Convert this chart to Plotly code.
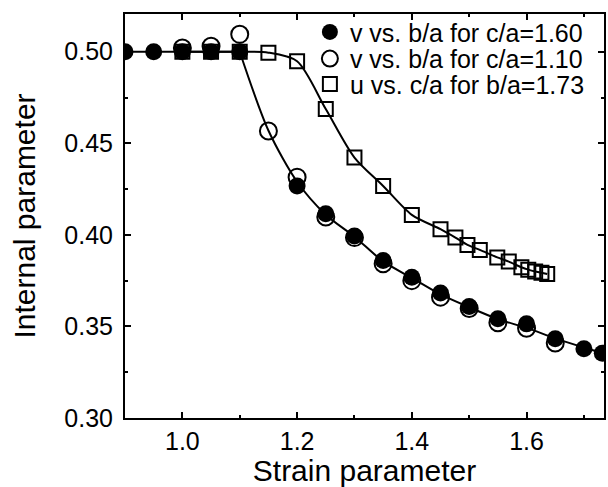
import plotly.graph_objects as go

# ---- data ----
filled_x = [0.9, 0.95, 1.0, 1.05, 1.1, 1.2, 1.25, 1.3, 1.35, 1.4, 1.45, 1.5, 1.55, 1.6, 1.65, 1.7, 1.732]
filled_y = [0.5, 0.5, 0.5, 0.5, 0.5, 0.4267, 0.4115, 0.3994, 0.386, 0.3769, 0.3682, 0.3609, 0.3542, 0.3514, 0.3433, 0.3378, 0.3354]

open_x = [1.0, 1.05, 1.1, 1.15, 1.2, 1.25, 1.3, 1.35, 1.4, 1.45, 1.5, 1.55, 1.6, 1.65]
open_y = [0.502, 0.503, 0.5095, 0.4567, 0.4315, 0.4098, 0.3985, 0.3842, 0.375, 0.366, 0.3598, 0.352, 0.349, 0.341]

square_x = [1.0, 1.05, 1.1, 1.15, 1.2, 1.25, 1.3, 1.35, 1.4, 1.45, 1.476, 1.497, 1.5185,
            1.549, 1.569, 1.591, 1.603, 1.615, 1.626, 1.636]
square_y = [0.5, 0.5, 0.5, 0.4995, 0.4948, 0.4687, 0.4422, 0.4267, 0.4109, 0.4031, 0.3985, 0.3945,
            0.3918, 0.3877, 0.3854, 0.3823, 0.3810, 0.3800, 0.3793, 0.3786]

# fitted curve through the v data
flat_x = [0.9, 1.1]
flat_y = [0.5, 0.5]
fit_x = [1.1, 1.15, 1.2, 1.25, 1.3, 1.35, 1.4, 1.45, 1.5, 1.55, 1.6, 1.65, 1.7, 1.732]
fit_y = [0.5, 0.457, 0.429, 0.411, 0.399, 0.3855, 0.3765, 0.3675, 0.3605, 0.354, 0.3492, 0.3435, 0.3385, 0.3355]

labels = ["v vs. b/a for c/a=1.60", "v vs. b/a for c/a=1.10", "u vs. c/a for b/a=1.73"]

FONT = "Liberation Sans, Arial, Helvetica, sans-serif"
BLACK = "#000000"
TICK_SIZE = 25
TITLE_SIZE = 30
LEG_SIZE = 25

fig = go.Figure()

# lines
fig.add_trace(go.Scatter(x=flat_x, y=flat_y, mode="lines", line=dict(color=BLACK, width=2),
                         showlegend=False, hoverinfo="skip"))
fig.add_trace(go.Scatter(x=fit_x, y=fit_y, mode="lines", line=dict(color=BLACK, width=2, shape="spline", smoothing=0.8),
                         showlegend=False, hoverinfo="skip"))
fig.add_trace(go.Scatter(x=square_x, y=square_y, mode="lines", line=dict(color=BLACK, width=2, shape="spline", smoothing=0.8),
                         showlegend=False, hoverinfo="skip"))

# markers: squares first (underneath), then open circles, then filled circles on top
fig.add_trace(go.Scatter(x=square_x, y=square_y, mode="markers", name=labels[2], legend="legend3",
                         marker=dict(symbol="square-open", size=14, color=BLACK, line=dict(width=2))))
fig.add_trace(go.Scatter(x=open_x, y=open_y, mode="markers", name=labels[1], legend="legend2",
                         marker=dict(symbol="circle-open", size=17, color=BLACK, line=dict(width=2))))
fig.add_trace(go.Scatter(x=filled_x, y=filled_y, mode="markers", name=labels[0], legend="legend",
                         marker=dict(symbol="circle", size=17, color=BLACK, line=dict(width=0))))

axis_common = dict(
    showline=True, linecolor=BLACK, linewidth=2, mirror="ticks",
    ticks="inside", tickcolor=BLACK, tickwidth=1.5, ticklen=6,
    showgrid=False, zeroline=False,
    tickfont=dict(family=FONT, size=TICK_SIZE, color=BLACK),
)

leg_common = dict(x=0.386, xanchor="left", yanchor="middle", bgcolor="rgba(0,0,0,0)",
                  font=dict(family=FONT, size=LEG_SIZE, color=BLACK), itemsizing="trace")

fig.update_layout(
    width=608, height=487,
    margin=dict(l=125, r=2, t=14, b=69),
    paper_bgcolor="white", plot_bgcolor="white",
    font=dict(family=FONT, size=TICK_SIZE, color=BLACK),
    legend=dict(y=0.955, **leg_common),
    legend2=dict(y=0.889, **leg_common),
    legend3=dict(y=0.826, **leg_common),
    xaxis=dict(range=[0.9, 1.735], dtick=0.2, tick0=1.0, tickformat=".1f",
               minor=dict(ticks="inside", dtick=0.1, ticklen=3, tickcolor=BLACK, tickwidth=1.5),
               title=dict(text="Strain parameter", font=dict(family=FONT, size=TITLE_SIZE, color=BLACK), standoff=6),
               **axis_common),
    yaxis=dict(range=[0.30, 0.5206], dtick=0.05, tick0=0.30, tickformat=".2f", ticksuffix="\u2009",
               minor=dict(ticks="inside", dtick=0.025, ticklen=3, tickcolor=BLACK, tickwidth=1.5),
               title=dict(text="Internal parameter", font=dict(family=FONT, size=TITLE_SIZE, color=BLACK), standoff=20),
               **axis_common),
)

fig.write_html("out.html", config={"displayModeBar": False},
               post_script="document.body.style.margin='0';")
